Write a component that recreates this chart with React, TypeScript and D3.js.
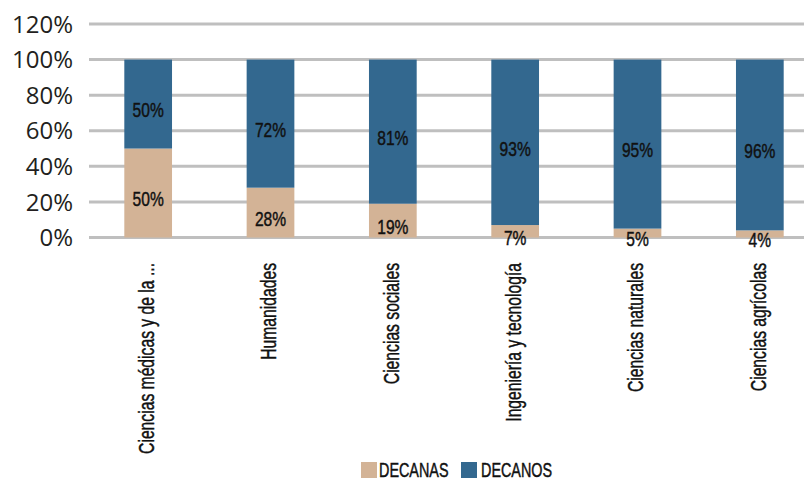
import React from "react";
import * as d3 from "d3";

const categories = [
  "Ciencias médicas y de la ...",
  "Humanidades",
  "Ciencias sociales",
  "Ingeniería y tecnología",
  "Ciencias naturales",
  "Ciencias agrícolas",
];
const decanas = [50, 28, 19, 7, 5, 4];
const decanos = [50, 72, 81, 93, 95, 96];
const yTicks = [0, 20, 40, 60, 80, 100, 120];
const seriesNames = ["DECANAS", "DECANOS"];
const colors = ["#D3B396", "#33688F"];

const W = 804;
const H = 482;
const font = "'Liberation Sans', Arial, sans-serif";

export default function App() {
  const x = d3.scaleBand<string>().domain(categories).range([87, 821]).paddingInner(0.61).paddingOuter(0.305);
  const y = d3.scaleLinear().domain([0, 120]).range([237.5, 24]);

  const stacked = categories.map((c, i) => {
    const a = decanas[i];
    const b = decanos[i];
    return [
      { key: 0, y0: 0, y1: a, v: a, c },
      { key: 1, y0: a, y1: a + b, v: b, c },
    ];
  });

  const txtStyle = { stroke: "#111", strokeWidth: 0.45 } as const;

  return (
    <svg width={W} height={H} style={{ position: "absolute", left: 0, top: 0, background: "#fff" }}>
      {yTicks.map((t) => (
        <g key={t}>
          <line x1={89} x2={W} y1={y(t)} y2={y(t)} stroke="#BFBFBF" strokeWidth={3} />
          <text
            x={73}
            y={y(t)}
            dy="0.36em"
            textAnchor="end"
            fontFamily="'Open Sans', sans-serif"
            fontSize={24}
            fill="#231F20"
          >
            {t}%
          </text>
        </g>
      ))}
      {stacked.map((segs) =>
        segs.map((s) => (
          <rect
            key={s.c + s.key}
            x={x(s.c)!}
            width={x.bandwidth()}
            y={y(s.y1)}
            height={y(s.y0) - y(s.y1)}
            fill={colors[s.key]}
          />
        ))
      )}
      {stacked.map((segs) =>
        segs.map((s) => (
          <g
            key={"l" + s.c + s.key}
            transform={`translate(${x(s.c)! + x.bandwidth() / 2},${(y(s.y0) + y(s.y1)) / 2 + 6}) scale(0.76,1)`}
          >
            <text dy="0.36em" textAnchor="middle" fontFamily={font} fontSize={20.5} fill="#111" {...txtStyle}>
              {s.v}%
            </text>
          </g>
        ))
      )}
      {categories.map((c) => (
        <g
          key={"x" + c}
          transform={`translate(${x(c)! + x.bandwidth() / 2 - 2},263) rotate(-90) scale(0.73,1)`}
        >
          <text textAnchor="end" dy="0.36em" fontFamily={font} fontSize={21.5} fill="#111" {...txtStyle}>
            {c}
          </text>
        </g>
      ))}
      <g>
        <rect x={361} y={462} width={16} height={16} fill={colors[0]} />
        <g transform={`translate(379,470) scale(0.72,1)`}>
          <text dy="0.36em" fontFamily={font} fontSize={20} fill="#111" {...txtStyle}>
            {seriesNames[0]}
          </text>
        </g>
        <rect x={461} y={462} width={16} height={16} fill={colors[1]} />
        <g transform={`translate(481,470) scale(0.72,1)`}>
          <text dy="0.36em" fontFamily={font} fontSize={20} fill="#111" {...txtStyle}>
            {seriesNames[1]}
          </text>
        </g>
      </g>
    </svg>
  );
}
